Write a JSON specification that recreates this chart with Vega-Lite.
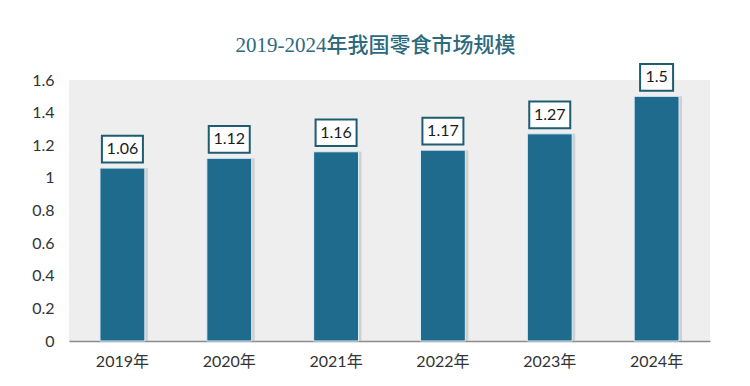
{
  "$schema": "https://vega.github.io/schema/vega-lite/v6.json",
  "width": 641,
  "height": 261,
  "autosize": {"type": "none"},
  "padding": {"left": 69, "top": 80, "right": 40, "bottom": 45},
  "background": "#ffffff",
  "config": {
    "view": {"fill": "#eeeeee", "stroke": null},
    "font": "Lato, Noto Sans CJK SC"
  },
  "title": {
    "text": "2019-2024年我国零食市场规模",
    "font": "Liberation Serif, Noto Sans CJK SC",
    "fontSize": 21,
    "fontWeight": 500,
    "color": "#2c6a7e",
    "anchor": "middle",
    "offset": 4,
    "dx": -14
  },
  "data": {
    "values": [
      {"year": "2019年", "value": 1.06},
      {"year": "2020年", "value": 1.12},
      {"year": "2021年", "value": 1.16},
      {"year": "2022年", "value": 1.17},
      {"year": "2023年", "value": 1.27},
      {"year": "2024年", "value": 1.5}
    ]
  },
  "encoding": {
    "x": {
      "field": "year",
      "type": "nominal",
      "sort": null,
      "scale": {"paddingInner": 0.58, "paddingOuter": 0.29},
      "axis": {
        "title": null,
        "labelAngle": 0,
        "labelFontSize": 16,
        "labelColor": "#333333",
        "labelFont": "Lato, Noto Sans CJK SC",
        "labelPadding": 12,
        "ticks": false,
        "domain": true,
        "domainColor": "#8c8c8c",
        "domainWidth": 1.5
      }
    },
    "y": {
      "field": "value",
      "type": "quantitative",
      "scale": {"domain": [0, 1.6], "nice": false},
      "axis": {
        "title": null,
        "values": [0, 0.2, 0.4, 0.6, 0.8, 1, 1.2, 1.4, 1.6],
        "format": "~g",
        "grid": false,
        "domain": false,
        "ticks": false,
        "labelPadding": 15,
        "labelFontSize": 16,
        "labelColor": "#333333",
        "labelFont": "Lato"
      }
    }
  },
  "layer": [
    {
      "mark": {"type": "bar", "color": "#bdbdbd", "opacity": 0.6, "xOffset": 3}
    },
    {
      "mark": {"type": "bar", "color": "#1f6b8e", "stroke": "#dceff8", "strokeWidth": 1}
    },
    {
      "mark": {
        "type": "point",
        "filled": true,
        "fill": "#ffffff",
        "stroke": "#1d5c72",
        "strokeWidth": 2,
        "opacity": 1,
        "size": 1681,
        "yOffset": -19
      },
      "encoding": {
        "shape": {
          "condition": {"test": "datum.year === '2024年'", "value": "M-0.805,-0.65L0.805,-0.65L0.805,0.65L-0.805,0.65Z"},
          "value": "M-1,-0.65L1,-0.65L1,0.65L-1,0.65Z"
        }
      }
    },
    {
      "mark": {
        "type": "text",
        "fontSize": 16,
        "font": "Lato",
        "color": "#1a1a1a",
        "baseline": "middle",
        "yOffset": -19
      },
      "encoding": {
        "text": {"field": "value", "type": "quantitative", "format": "~g"}
      }
    }
  ]
}
